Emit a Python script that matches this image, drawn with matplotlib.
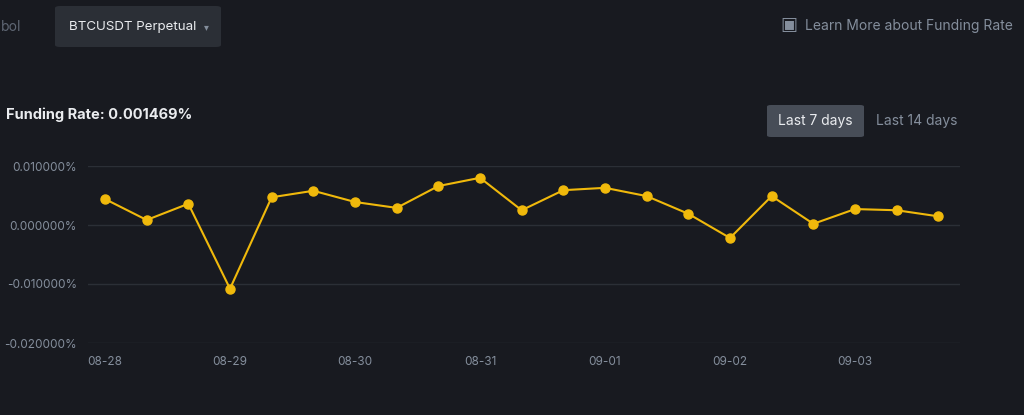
import matplotlib.pyplot as plt
from matplotlib.patches import FancyBboxPatch

# funding rate (%) every 8h, 08-28 00:00 onwards
rates = [0.0044, 0.00085, 0.0036, -0.0108, 0.0047, 0.0058, 0.0039, 0.0029,
         0.0066, 0.0080, 0.0025, 0.0059, 0.0063, 0.0049, 0.0019, -0.0022,
         0.0049, 0.0002, 0.0027, 0.0025, 0.001469]
day_labels = ["08-28", "08-29", "08-30", "08-31", "09-01", "09-02", "09-03"]
y_ticks = [0.01, 0.0, -0.01, -0.02]

bg = "#181a20"
fig = plt.figure(figsize=(10.24, 4.15), dpi=100, facecolor=bg)
plt.rcParams["font.family"] = ["Inter", "DejaVu Sans"]

ax = fig.add_axes([88 / 1024, 72 / 415, 872 / 1024, 177 / 415], facecolor=bg)
xs = [i / 3 for i in range(len(rates))]
ax.plot(xs, rates, color="#f0b90b", lw=1.5, marker="o", ms=6.5, zorder=3)
ax.set_xlim(-17 / 125, 855 / 125)
ax.set_ylim(-0.02, 0.01)
ax.set_yticks(y_ticks)
ax.set_yticklabels([f"{v:.6f}%" for v in y_ticks])
ax.set_xticks(range(len(day_labels)))
ax.set_xticklabels(day_labels)
for v in y_ticks:
    ax.axhline(v, color="#2b2f36", lw=1, zorder=1)
for s in ax.spines.values():
    s.set_visible(False)
ax.tick_params(length=0, colors="#848e9c", labelsize=8.5)
ax.tick_params(axis="x", pad=9)
ax.tick_params(axis="y", pad=8)

# header controls
fig.patches.append(FancyBboxPatch((55 / 1024, (415 - 47) / 415), 166 / 1024, 41 / 415,
                                  boxstyle="round,pad=0,rounding_size=0.005",
                                  transform=fig.transFigure, fc="#2b2f36", ec="none"))
fig.text(1 / 1024, 1 - 27 / 415, "bol", color="#5e6673", fontsize=10, va="center")
fig.text(69 / 1024, 1 - 27 / 415, "BTCUSDT Perpetual", color="#eaecef", fontsize=9.6, va="center")
fig.text(204 / 1024, 1 - 27 / 415, "▾", color="#848e9c", fontsize=7, va="center")
fig.text(780 / 1024, 1 - 26 / 415, "▣", color="#848e9c", fontsize=13, va="center")
fig.text(805 / 1024, 1 - 26 / 415, "Learn More about Funding Rate", color="#848e9c",
         fontsize=10, va="center")
fig.text(6 / 1024, 1 - 115 / 415, "Funding Rate: 0.001469%", color="#eaecef",
         fontsize=10.5, fontweight="bold", va="center")
fig.patches.append(FancyBboxPatch((767 / 1024, (415 - 137) / 415), 97 / 1024, 32 / 415,
                                  boxstyle="round,pad=0,rounding_size=0.004",
                                  transform=fig.transFigure, fc="#474d57", ec="none"))
fig.text(815 / 1024, 1 - 121 / 415, "Last 7 days", color="#eaecef", fontsize=10,
         ha="center", va="center")
fig.text(917 / 1024, 1 - 121 / 415, "Last 14 days", color="#848e9c", fontsize=10,
         ha="center", va="center")

fig.savefig("out.png", dpi=100, facecolor=bg)
